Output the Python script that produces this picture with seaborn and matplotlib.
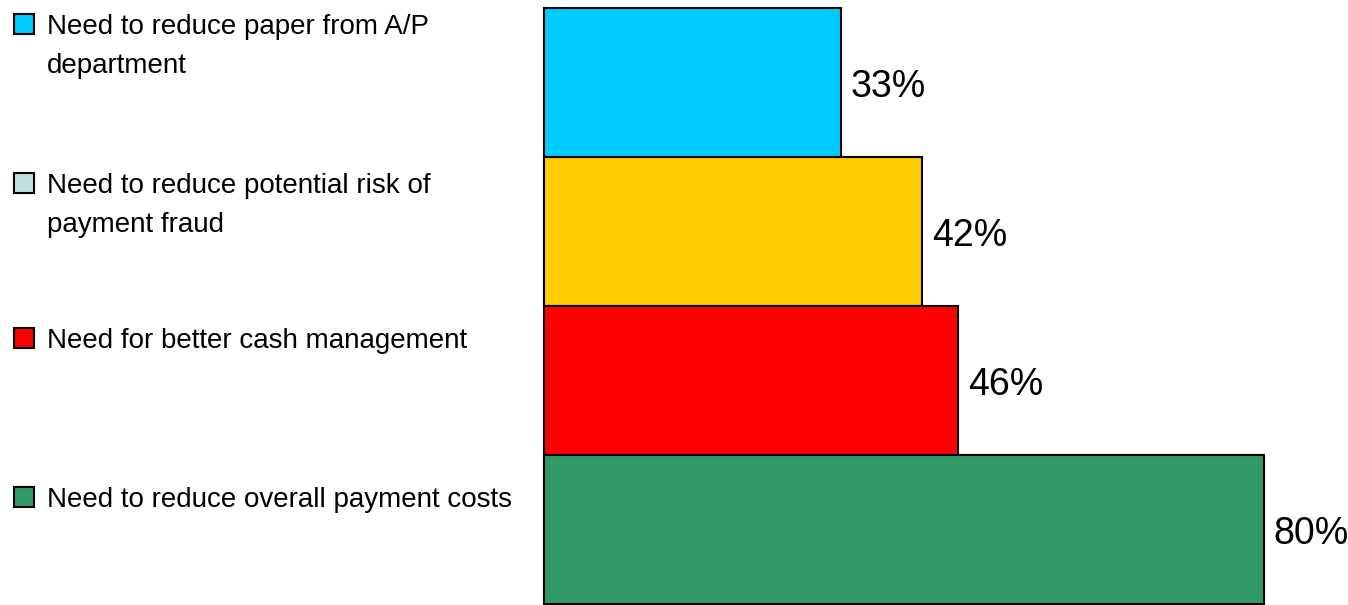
import matplotlib
matplotlib.use('Agg')
import matplotlib.pyplot as plt
import matplotlib.patches as mpatches
import seaborn as sns

# values, top to bottom
reasons = ['Need to reduce paper from A/P department',
           'Need to reduce potential risk of payment fraud',
           'Need for better cash management',
           'Need to reduce overall payment costs']
legend_labels = ['Need to reduce paper from A/P\ndepartment',
                 'Need to reduce potential risk of\npayment fraud',
                 'Need for better cash management',
                 'Need to reduce overall payment costs']
pct = [33, 42, 46, 80]
bar_colors = ['#00CCFF', '#FFCC00', '#FF0000', '#339966']
legend_colors = ['#00CCFF', '#C0E0E0', '#FF0000', '#339966']

sns.set_style('white')
plt.rcParams['font.family'] = ['Liberation Sans', 'DejaVu Sans']

fig = plt.figure(figsize=(13.48, 6.05), dpi=100)
ax = fig.add_axes([544 / 1348, 1 / 605, 1 - 544 / 1348, 596 / 605])

sns.barplot(x=pct, y=reasons, hue=reasons, palette=bar_colors, orient='h',
            width=1.0, saturation=1, edgecolor='black', linewidth=1.5,
            legend=False, dodge=False, ax=ax)
for p in ax.patches:
    p.set_clip_on(False)

for c in ax.containers:
    texts = ax.bar_label(c, labels=[f'{v:.0f}%' for v in c.datavalues],
                         padding=7, fontsize=27, color='black')
    for t in texts:
        t.xyann = (7, -3)

ax.set_xlim(0, 804 / 9)
ax.set_ylim(3.5, -0.5)
ax.set_xticks([])
ax.set_yticks([])
ax.set_xlabel('')
ax.set_ylabel('')
sns.despine(ax=ax, left=True, bottom=True)

# legend drawn at left, one entry per bar
W, H = 1348, 605
tops = [14, 173, 328, 487]
for lab, col, top in zip(legend_labels, legend_colors, tops):
    fig.add_artist(mpatches.Rectangle((14 / W, 1 - (top + 20) / H), 20 / W, 20 / H,
                                      transform=fig.transFigure, facecolor=col,
                                      edgecolor='black', linewidth=1.5))
    fig.text(47 / W, 1 - top / H, lab, fontsize=20, va='top', ha='left',
             color='black', linespacing=1.65)

fig.savefig('out.png', dpi=100)
